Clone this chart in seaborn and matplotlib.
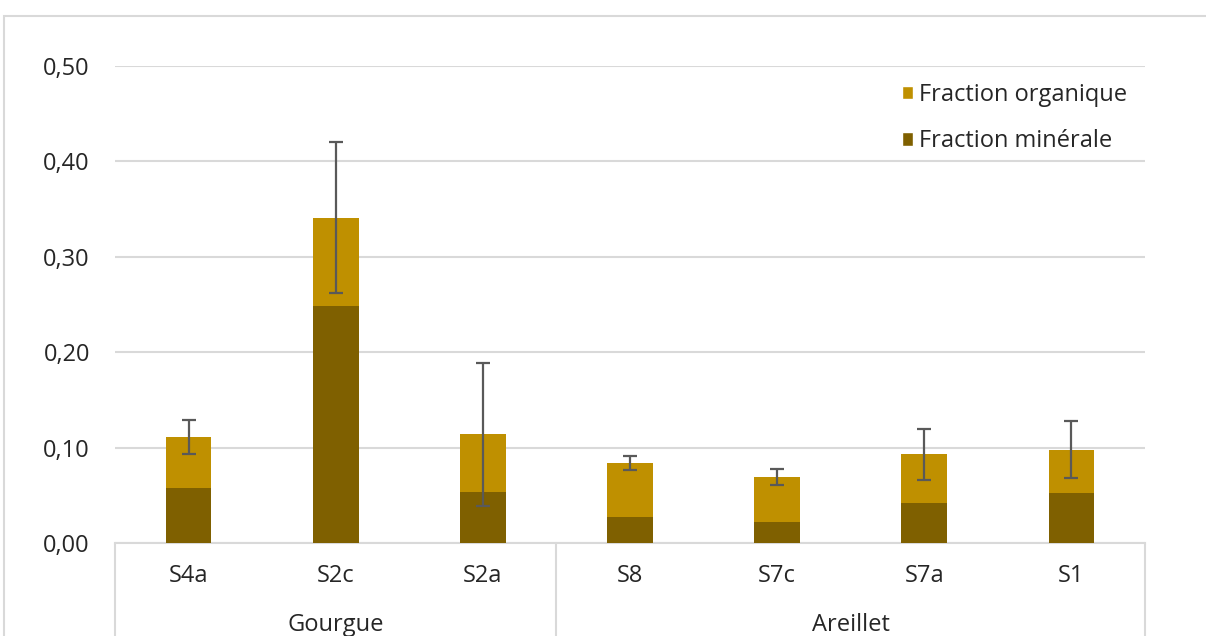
import matplotlib
matplotlib.use("Agg")
import matplotlib.pyplot as plt
from matplotlib.patches import Patch, Rectangle
from matplotlib.lines import Line2D
from matplotlib.ticker import FuncFormatter
import numpy as np
import seaborn as sns

# Data
sites = ["S4a", "S2c", "S2a", "S8", "S7c", "S7a", "S1"]
groups = ["Gourgue", "Areillet"]
group_sizes = [3, 4]
mineral = [0.058, 0.248, 0.053, 0.027, 0.022, 0.042, 0.052]
organic = [0.053, 0.093, 0.061, 0.057, 0.047, 0.051, 0.046]
error = [0.018, 0.079, 0.075, 0.007, 0.0085, 0.0265, 0.030]
yticks = [0.0, 0.1, 0.2, 0.3, 0.4, 0.5]

c_org = "#BF9000"
c_min = "#7F6000"
c_grid = "#D9D9D9"
c_text = "#262626"
fs = 17

sns.set_style("white")
plt.rcParams["font.family"] = ["Open Sans", "DejaVu Sans"]

fig = plt.figure(figsize=(12.06, 6.36), dpi=100)
ax = fig.add_axes([115 / 1206, 1 - 543 / 636, 1030 / 1206, 477 / 636])

total = [m + o for m, o in zip(mineral, organic)]

sns.barplot(x=sites, y=total, color=c_org, saturation=1, width=0.31, ax=ax,
            edgecolor="none", zorder=3)
sns.barplot(x=sites, y=mineral, color=c_min, saturation=1, width=0.31, ax=ax,
            edgecolor="none", zorder=4)
ax.errorbar(np.arange(len(sites)), total, yerr=error, fmt="none",
            ecolor="#595959", elinewidth=1.6, capsize=5, capthick=1.6, zorder=5)

ax.set_xlim(-0.5, len(sites) - 0.5)
ax.set_ylim(0, 0.5)
ax.set_yticks(yticks)
ax.yaxis.set_major_formatter(FuncFormatter(lambda v, p: f"{v:.2f}".replace(".", ",")))
ax.tick_params(axis="y", length=0, pad=18, labelsize=fs, labelcolor=c_text)
ax.set_xticks([])
ax.set_xlabel("")
ax.set_ylabel("")
for s in ["top", "right", "left"]:
    ax.spines[s].set_visible(False)
ax.spines["bottom"].set_color(c_grid)
ax.spines["bottom"].set_linewidth(1.5)
ax.yaxis.grid(True, color=c_grid, linewidth=1.5, zorder=0)
ax.set_axisbelow(True)

# Category and group labels below the axis
trans = ax.get_xaxis_transform()
for i, s in enumerate(sites):
    ax.text(i, -0.07, s, transform=trans, ha="center", va="center",
            fontsize=fs, color=c_text, clip_on=False)
bounds = [-0.5]
for n in group_sizes:
    bounds.append(bounds[-1] + n)
for g, a, b in zip(groups, bounds[:-1], bounds[1:]):
    ax.text((a + b) / 2, -0.172, g, transform=trans, ha="center", va="center",
            fontsize=fs, color=c_text, clip_on=False)
for x in bounds:
    ax.add_line(Line2D([x, x], [0, -0.25], transform=trans, color=c_grid,
                       linewidth=1.5, clip_on=False))

# Legend
handles = [Patch(facecolor=c_org, label="Fraction organique"),
           Patch(facecolor=c_min, label="Fraction minérale")]
ax.legend(handles=handles, loc="upper left", bbox_to_anchor=(0.764, 0.965),
          frameon=False, fontsize=fs, handlelength=0.48, handleheight=0.48,
          handletextpad=0.25, labelspacing=0.96, labelcolor=c_text,
          borderpad=0, borderaxespad=0)

# Chart frame
fig.patches.append(Rectangle((4 / 1206, -0.1), 1.2, (636 - 16) / 636 + 0.1,
                             transform=fig.transFigure, fill=False,
                             edgecolor=c_grid, linewidth=1.5))

fig.savefig("out.png", dpi=100, facecolor="white")
